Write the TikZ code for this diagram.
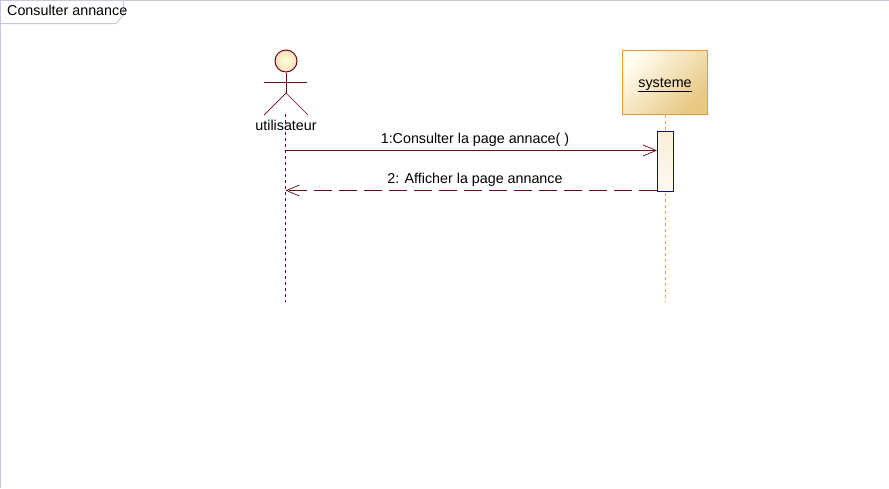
\documentclass[tikz,border=0pt]{standalone}
\usepackage{fontspec}
\setmainfont{Liberation Sans}
\usetikzlibrary{arrows.meta,calc}
\definecolor{umlred}{RGB}{110,5,25}
\definecolor{frameline}{RGB}{200,200,228}
\definecolor{boxline}{RGB}{240,150,50}
\definecolor{boxdark}{RGB}{232,200,130}
\definecolor{boxlight}{RGB}{255,252,240}
\definecolor{actfill}{RGB}{250,238,214}
\definecolor{actline}{RGB}{20,20,110}
\definecolor{lifeorange}{RGB}{240,170,50}
\tikzset{
  x=1pt,y=-1pt,
  txt/.style={inner sep=0pt,font=\fontsize{14.3}{16}\selectfont,text=black},
  frameedge/.style={draw=frameline,line width=1pt},
  actorline/.style={color=umlred,line width=1pt},
  lifered/.style={color=umlred,line width=1.4pt,dash pattern=on 3pt off 3pt},
  lifeyellow/.style={color=lifeorange,line width=1.4pt,dash pattern=on 3pt off 3pt},
  msg/.style={color=umlred,line width=1pt,-{Straight Barb[length=13pt,width=11pt,line width=.7pt]}},
  reply/.style={color=umlred,line width=1.05pt,dash pattern=on 18pt off 7pt,-{Straight Barb[length=13pt,width=11pt,line width=.7pt,sep=0pt]}},
  objbox/.style={draw=boxline,line width=1pt,minimum width=85pt,minimum height=64pt,inner sep=0pt,
    shade,left color=boxlight,right color=boxdark,shading angle=45},
  actbox/.style={draw=actline,line width=1pt,minimum width=16pt,minimum height=60pt,inner sep=0pt,
    shade,top color=actfill,bottom color=white!70!actfill},
  head/.style={circle,draw=umlred,line width=1pt,minimum size=22pt,inner sep=0pt,
    shade,inner color=white!85!yellow,outer color=boxdark!55!white},
}
\begin{document}
\begin{tikzpicture}
\useasboundingbox (0,0) rectangle (889,488);
\fill[white] (0,0) rectangle (889,488);
% frame
\draw[frameedge] (889,0.5) -- (0.5,0.5) -- (0.5,488);
\draw[frameedge] (123.5,0.5) -- (123.5,15) -- (116,23.5) -- (0.5,23.5);
\node[txt,anchor=base west] (title) at (7,15) {Consulter annance};
% object and lifelines
\coordinate (uEnd) at (285.5,302);
\coordinate (sEnd) at (665.5,302);
\coordinate (uTop) at (285.5,114);
\node[objbox] (sys) at (664.5,82) {};
\node[txt,anchor=base] (syslabel) at (665,87) {\underline{systeme}};
\draw[lifered] (uTop) -- (uEnd);
\draw[lifeyellow] (sys.south -| sEnd) -- (sEnd);
\node[actbox] (act) at (665.5,161) {};
% actor
\node[head] (hd) at (286,61) {};
\coordinate (armL) at (264,82.5);
\coordinate (armR) at (307,82.5);
\coordinate (hip) at (286,93);
\coordinate (legL) at (264,115);
\coordinate (legR) at (308,115);
\draw[actorline] (hd.south) -- (hip);
\draw[actorline] (armL) -- (armR);
\draw[actorline,line width=.7pt] (legL) -- (hip) -- (legR);
\node[txt,anchor=base] (user) at (286,130) {utilisateur};
% messages
\coordinate (m1s) at (285.5,150.5);
\coordinate (m2e) at (285.5,190.5);
\draw[msg] (m1s) -- (m1s -| act.west);
\draw[reply] (m2e -| act.west) -- (m2e);
\node[txt,anchor=base] (l1) at (475,143) {1:Consulter la page annace( )};
\node[txt,anchor=base] (l2) at (475,183) {2: Afficher la page annance};
\end{tikzpicture}
\end{document}
